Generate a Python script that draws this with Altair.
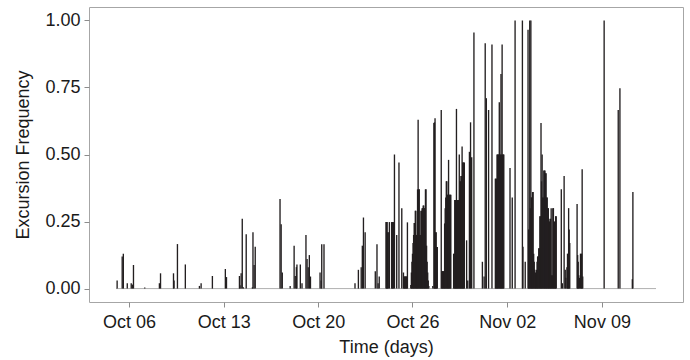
import altair as alt
import pandas as pd

# hours since 2013-10-05 00:00 (UTC) and excursion frequency in that hour
hours = [1, 3, 12, 14, 21, 28, 30, 32, 52, 78, 80, 103, 104, 110, 124, 149, 152, 172,
         195, 197, 220, 221, 223, 225, 227, 232, 243, 244, 246, 248, 292, 294, 296, 310,
         317, 319, 321, 322, 328, 331, 338, 340, 342, 344, 346, 363, 365, 366, 370,
         425, 431, 436, 438, 440, 443, 461, 464, 466, 468,
         480, 481, 482, 483, 484, 486, 490, 491, 492, 493, 495, 499, 503, 508,
         511, 512, 513, 514, 515, 516, 517, 518,
         524, 525, 526, 527, 528, 529, 530, 531, 532, 533, 534, 535, 536, 537, 538, 539,
         540, 541, 542, 543, 544, 545, 546, 547, 548, 549, 550, 551, 552, 553, 554, 555, 556,
         563, 565, 566, 567, 568, 569, 570, 571,
         578, 579, 580, 581, 582, 583, 584, 585, 586, 587, 588, 589, 590, 591, 592, 593, 594, 595,
         600, 601, 602, 603, 604, 605, 606, 607, 608, 609, 610, 611, 612, 613, 614, 615, 616,
         617, 618, 619, 623, 625, 628, 630, 632, 636,
         651, 654, 656, 658, 662, 668,
         674, 675, 676, 677, 678, 679, 680, 681, 682, 683, 684, 685, 686, 687, 688, 689,
         700, 704, 709, 722, 723, 727,
         732, 733, 734, 735, 736, 737, 738, 739, 740, 741, 742, 743, 744, 745, 746, 747, 748,
         749, 750, 751, 752, 753, 754, 755, 756, 757, 758, 759, 760, 761, 762, 763, 764, 765,
         766, 767, 768, 769, 770, 771, 772, 773, 774, 775, 776, 777, 778, 779, 780, 781, 782,
         791, 793, 796, 798, 799, 801, 802, 803, 804, 805, 806,
         819, 820, 821, 822, 823, 825, 826, 827, 828, 829,
         867, 892, 895, 917, 918, 959]

freq = [0.0, 0.03, 0.12, 0.13, 0.02, 0.02, 0.015, 0.088, 0.004, 0.02, 0.057, 0.057, 0.03, 0.166, 0.09, 0.01, 0.02, 0.047,
        0.073, 0.043, 0.047, 0.012, 0.057, 0.26, 0.005, 0.203, 0.005, 0.21, 0.088, 0.156, 0.334, 0.24, 0.06, 0.01,
        0.16, 0.047, 0.08, 0.09, 0.09, 0.02, 0.20, 0.11, 0.08, 0.125, 0.045, 0.06, 0.03, 0.165, 0.165,
        0.02, 0.07, 0.08, 0.16, 0.265, 0.21, 0.065, 0.165, 0.02, 0.045,
        0.248, 0.248, 0.248, 0.21, 0.21, 0.248, 0.248, 0.248, 0.248, 0.248, 0.50, 0.20, 0.47, 0.30,
        0.06, 0.045, 0.045, 0.045, 0.045, 0.045, 0.045, 0.247,
        0.013, 0.06, 0.10, 0.13, 0.17, 0.20, 0.245, 0.245, 0.29, 0.29, 0.20, 0.20, 0.37, 0.63, 0.37, 0.37,
        0.20, 0.20, 0.29, 0.29, 0.30, 0.30, 0.31, 0.31, 0.30, 0.30, 0.37, 0.37, 0.16, 0.10, 0.06, 0.03, 0.01,
        0.01, 0.617, 0.62, 0.635, 0.21, 0.21, 0.155, 0.155,
        0.666, 0.065, 0.065, 0.065, 0.065, 0.065, 0.243, 0.30, 0.34, 0.40, 0.40, 0.35, 0.35, 0.48, 0.35, 0.35, 0.35, 0.35,
        0.13, 0.13, 0.33, 0.33, 0.33, 0.67, 0.33, 0.33, 0.33, 0.33, 0.50, 0.40, 0.40, 0.42, 0.42, 0.53, 0.47,
        0.47, 0.47, 0.47, 0.18, 0.03, 0.51, 0.62, 0.49, 0.955,
        0.10, 0.045, 0.915, 0.71, 0.666, 0.91,
        0.41, 0.41, 0.41, 0.50, 0.50, 0.50, 0.50, 0.695, 0.50, 0.50, 0.80, 0.50, 0.91, 0.50, 0.50, 0.50,
        0.45, 0.34, 1.0, 1.0, 0.156, 0.10,
        0.965, 0.22, 0.22, 1.0, 0.30, 1.0, 0.34, 0.34, 0.36, 0.36, 0.13, 0.10, 0.07, 0.06, 0.05, 0.07, 0.10,
        0.12, 0.12, 0.15, 0.15, 0.27, 0.27, 0.617, 0.40, 0.50, 0.34, 0.34, 0.44, 0.44, 0.44, 0.43, 0.43, 0.34,
        0.34, 0.30, 0.30, 0.25, 0.25, 0.26, 0.26, 0.30, 0.05, 0.05, 0.30, 0.30, 0.07, 0.25, 0.25, 0.27, 0.27,
        0.37, 0.02, 0.42, 0.07, 0.04, 0.08, 0.13, 0.13, 0.30, 0.22, 0.17,
        0.315, 0.125, 0.10, 0.05, 0.04, 0.13, 0.13, 0.13, 0.445, 0.045,
        1.0, 0.666, 0.747, 0.035, 0.36, 0.0]

# axis ticks (weekly breaks; the last three fall one hour earlier after the DST change)
tick_times = ["2013-10-06T00:00:00Z", "2013-10-13T00:00:00Z", "2013-10-20T00:00:00Z",
              "2013-10-26T23:00:00Z", "2013-11-02T23:00:00Z", "2013-11-09T23:00:00Z"]
y_ticks = [0, 0.25, 0.5, 0.75, 1.0]

origin = pd.Timestamp("2013-10-05T00:00:00Z")
times = [origin + pd.Timedelta(hours=h) for h in hours]
df = pd.DataFrame({"t": [t.strftime("%Y-%m-%dT%H:%M:%SZ") for t in times], "freq": freq})

span = times[-1] - times[0]
lo = times[0] - 0.05 * span
hi = times[-1] + 0.05 * span
to_ms = lambda ts: int(ts.value // 1_000_000)
tick_ms = [to_ms(pd.Timestamp(s)) for s in tick_times]

FONT = "Liberation Sans"
INK = "#231f20"

xscale = alt.Scale(type="utc", domain=[to_ms(lo), to_ms(hi)], nice=False)
xaxis = alt.Axis(values=tick_ms, format="%b %d", title="Time (days)", grid=False)
yscale = alt.Scale(domain=[-0.05, 1.05], nice=False, zero=False)
yaxis = alt.Axis(values=y_ticks, format=".2f", title="Excursion Frequency", grid=False)

base = alt.Chart(df)

baseline = base.mark_rule(color="#b0b0b0", strokeWidth=1).encode(
    x=alt.X("min(t):T", scale=xscale, axis=xaxis),
    x2=alt.X2("max(t)"),
    y=alt.Y(datum=0, type="quantitative", scale=yscale, axis=yaxis),
)

spikes = base.transform_filter("datum.freq > 0").mark_rule(color=INK, strokeWidth=1.35).encode(
    x=alt.X("t:T", scale=xscale, axis=xaxis),
    y=alt.Y("freq:Q", scale=yscale, axis=yaxis),
    y2=alt.datum(0),
)

chart = alt.layer(baseline, spikes).properties(
    width=594, height=295,
    autosize=alt.AutoSizeParams(type="none"),
    padding={"left": 89, "top": 7, "right": 7, "bottom": 58},
).configure_view(
    stroke="#a6a6a6", strokeWidth=1
).configure_axis(
    domain=False,
    tickColor="#8c8c8c", tickSize=5, tickWidth=1,
    labelFont=FONT, labelFontSize=18, labelColor="#1a1a1a",
    titleFont=FONT, titleFontSize=18, titleColor="#1a1a1a", titleFontWeight="normal",
).configure_axisX(
    labelPadding=6, titlePadding=7,
).configure_axisY(
    labelPadding=4, titlePadding=12,
)

chart.save("out.html", embed_options={"renderer": "svg", "actions": False})
